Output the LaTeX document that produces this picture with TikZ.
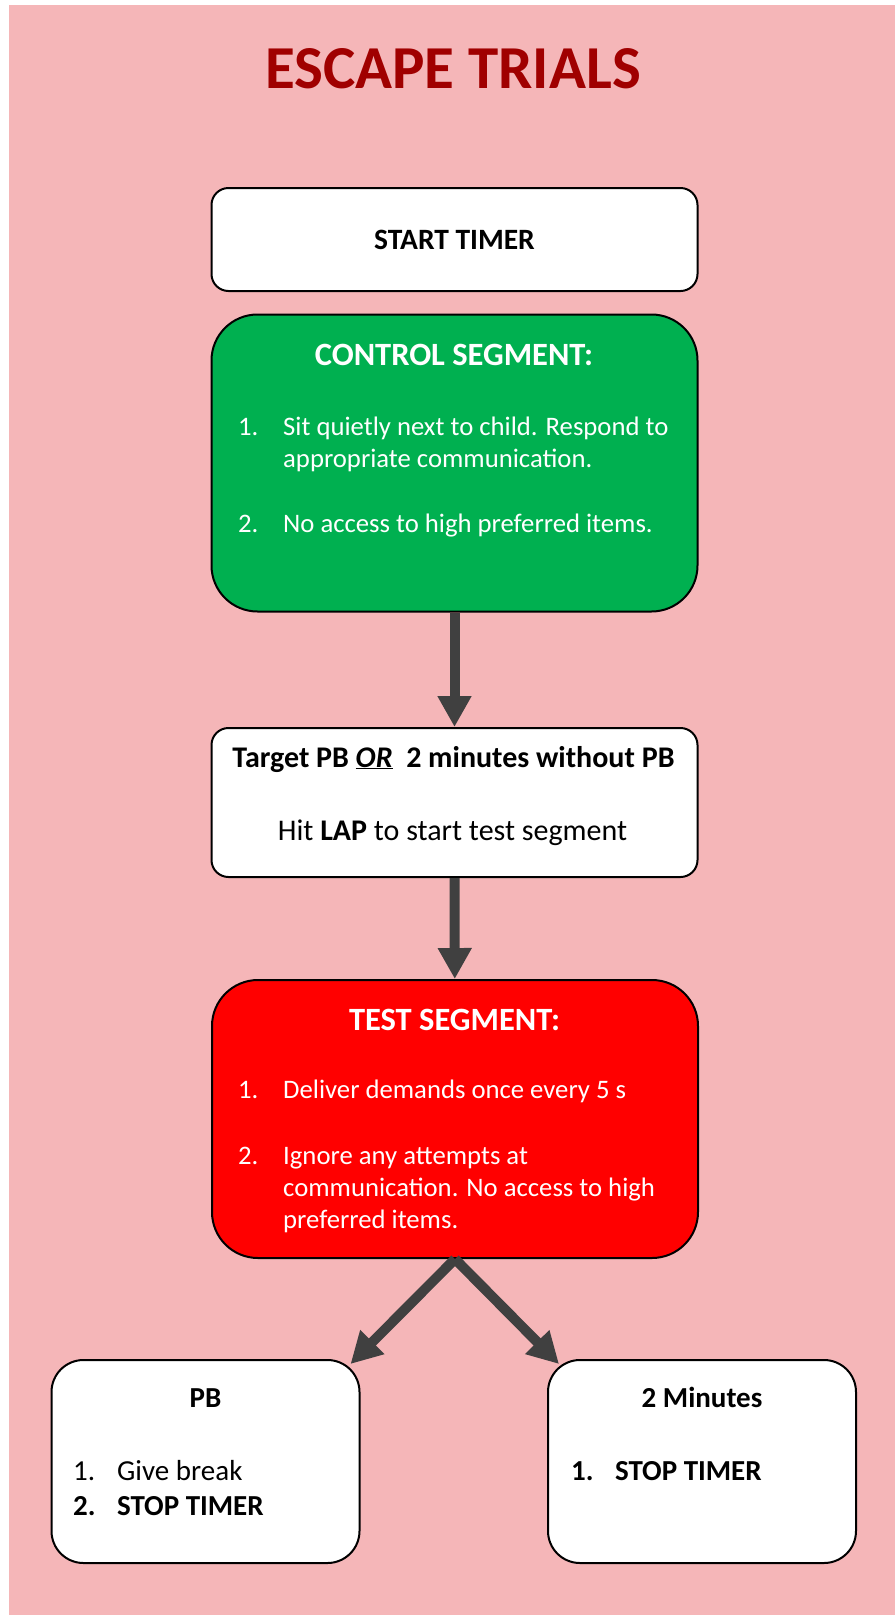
\documentclass[tikz,border=0pt]{standalone}
\usepackage{fontspec}
\setmainfont{Carlito}
\usepackage{xcolor}
\usepackage{tikz}
\usetikzlibrary{arrows.meta}
\definecolor{pinkbg}{HTML}{F5B6B8}
\definecolor{ctrlgreen}{HTML}{00B050}
\definecolor{testred}{HTML}{FF0000}
\definecolor{titlered}{HTML}{A00000}
\definecolor{arrowgray}{HTML}{404040}
\newcommand{\Num}[1]{\makebox[45pt][l]{#1}}
\newcommand{\Numb}[1]{\makebox[44pt][l]{#1}}

\begin{document}
\begin{tikzpicture}[x=1pt,y=-1pt,
    stepbox/.style={draw=black, line width=2pt, fill=white, rounded corners=17pt, minimum width=486pt, inner sep=0pt},
    segbox/.style={stepbox, rounded corners=46pt},
    endbox/.style={stepbox, rounded corners=32pt, minimum width=308pt, minimum height=203pt},
    flow/.style={-{Triangle[width=32pt,length=31pt]}, line width=10pt, draw=arrowgray},
    headtxt/.style={inner sep=0pt, anchor=base, font=\fontsize{32.5}{39}\selectfont\bfseries},
    bodytxt/.style={inner sep=0pt, anchor=base west, font=\fontsize{26.7}{32}\selectfont},
    endtxt/.style={inner sep=0pt, anchor=base west, font=\fontsize{29}{35}\selectfont}]
                \useasboundingbox (0,0) rectangle (895,1615);
                \fill[pinkbg] (9,5) rectangle (895,1615);
                \node[inner sep=0pt, anchor=base, text=titlered, font=\fontsize{61}{70}\selectfont\bfseries] (title) at (453,88) {ESCAPE TRIALS};
                % start
                \node[stepbox, minimum height=103pt, font=\fontsize{29.5}{35}\selectfont\bfseries] (start) at (454.5,239.5) {START TIMER};
                % control segment
                \node[segbox, fill=ctrlgreen, minimum height=297pt] (control) at (454.5,463) {};
                \node[headtxt, text=white] (controlhead) at (454,365) {CONTROL SEGMENT:};
                \node[bodytxt, text=white] (control1) at (238,435) {\Num{1.}Sit quietly next to child. Respond to};
                \node[bodytxt, text=white] (control1b) at (283,467) {appropriate communication.};
                \node[bodytxt, text=white] (control2) at (238,532) {\Num{2.}No access to high preferred items.};
                % lap
                \node[stepbox, minimum height=149pt] (target) at (454.5,802.5) {};
                \node[inner sep=0pt, anchor=base, font=\fontsize{30}{36}\selectfont\bfseries] (targetline) at (453.5,767) {Target PB \underline{\textit{OR}}\ \ 2 minutes without PB};
                \node[inner sep=0pt, anchor=base, font=\fontsize{30}{36}\selectfont] (lapline) at (452.5,840) {Hit \textbf{LAP} to start test segment};
                % test segment
                \node[segbox, fill=testred, minimum height=278pt] (test) at (455,1119) {};
                \node[headtxt, text=white] (testhead) at (454.5,1030) {TEST SEGMENT:};
                \node[bodytxt, text=white] (test1) at (238,1098) {\Num{1.}Deliver demands once every 5 s};
                \node[bodytxt, text=white] (test2) at (238,1164) {\Num{2.}Ignore any attempts at};
                \node[bodytxt, text=white] (test2b) at (283,1196.5) {communication. No access to high};
                \node[bodytxt, text=white] (test2c) at (283,1228.5) {preferred items.};
                % outcomes
                \node[endbox] (pb) at (205.5,1461.5) {};
                \node[headtxt, font=\fontsize{29}{35}\selectfont\bfseries] (pbhead) at (205.5,1407) {PB};
                \node[endtxt] (pb1) at (73,1480) {\Numb{1.}Give break};
                \node[endtxt, font=\fontsize{29}{35}\selectfont\bfseries] (pb2) at (73,1515) {\Numb{2.}STOP TIMER};
                \node[endbox] (twomin) at (702,1461.5) {};
                \node[headtxt, font=\fontsize{29}{35}\selectfont\bfseries] (twominhead) at (702,1407) {2 Minutes};
                \node[endtxt, font=\fontsize{29}{35}\selectfont\bfseries] (twomin1) at (571,1480) {\Numb{1.}STOP TIMER};
                % arrows
                \draw[flow] (control) -- (target);
                \draw[flow] (target) -- (test);
                \draw[flow] (test.south) -- ([xshift=-10pt,yshift=-5pt]pb.north east);
                \draw[flow] (test.south) -- ([xshift=12pt,yshift=-5pt]twomin.north west);
\end{tikzpicture}
\end{document}
